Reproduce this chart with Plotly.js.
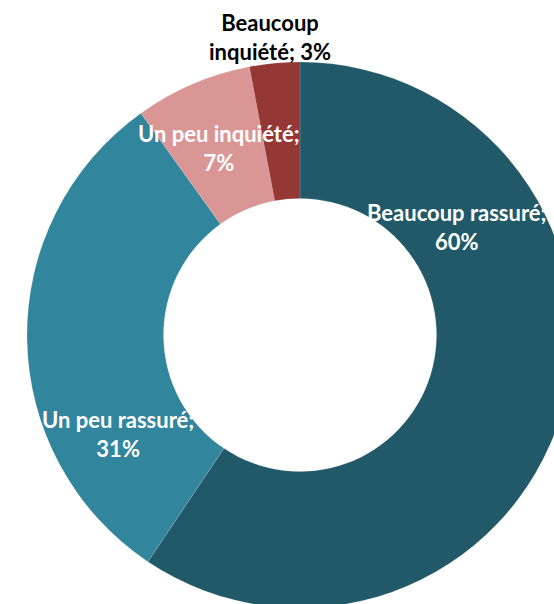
<!DOCTYPE html>
<html>
<head>
<meta charset="utf-8">
<script src="https://cdn.plot.ly/plotly-3.0.1.min.js"></script>
<style>
html, body { margin: 0; padding: 0; overflow: hidden; background: #fff; }
#chart { width: 600px; height: 660px; }
</style>
</head>
<body>
<div id="chart"></div>
<script>
const categories = ["Beaucoup rassuré", "Un peu rassuré", "Un peu inquiété", "Beaucoup inquiété"];
const values = [60, 31, 7, 3];
const colors = ["#215968", "#31859C", "#D99694", "#953735"];
const labelTexts = ["Beaucoup rassuré;<br>60%", "Un peu rassuré;<br>31%", "Un peu inquiété;<br>7%", "Beaucoup<br>inquiété; 3%"];
const labelColors = ["#FFFFFF", "#FFFFFF", "#FFFFFF", "#000000"];

const W = 600, H = 660;
// label anchor positions in pixels (layout only)
const labelPos = [[457, 227], [118, 434], [219, 148], [270, 37]];

const annotations = labelTexts.map((t, i) => ({
  text: t,
  x: labelPos[i][0] / W,
  y: 1 - labelPos[i][1] / H,
  xref: "paper", yref: "paper",
  xanchor: "center", yanchor: "middle",
  showarrow: false,
  align: "center",
  font: { family: "Lato, 'Open Sans', sans-serif", size: 22, color: labelColors[i], weight: "bold" }
}));

const trace = {
  type: "pie",
  labels: categories,
  values: values,
  sort: false,
  direction: "clockwise",
  rotation: 0,
  hole: 0.5,
  textinfo: "none",
  hoverinfo: "label+percent",
  marker: { colors: colors, line: { color: "rgba(255,255,255,0.25)", width: 0.5 } },
  domain: { x: [27 / W, 573 / W], y: [(H - 608) / H, (H - 62) / H] }
};

const layout = {
  width: W, height: H,
  margin: { l: 0, r: 0, t: 0, b: 0 },
  showlegend: false,
  paper_bgcolor: "#ffffff",
  annotations: annotations
};

Plotly.newPlot("chart", [trace], layout, { staticPlot: true, displayModeBar: false });
</script>
</body>
</html>
